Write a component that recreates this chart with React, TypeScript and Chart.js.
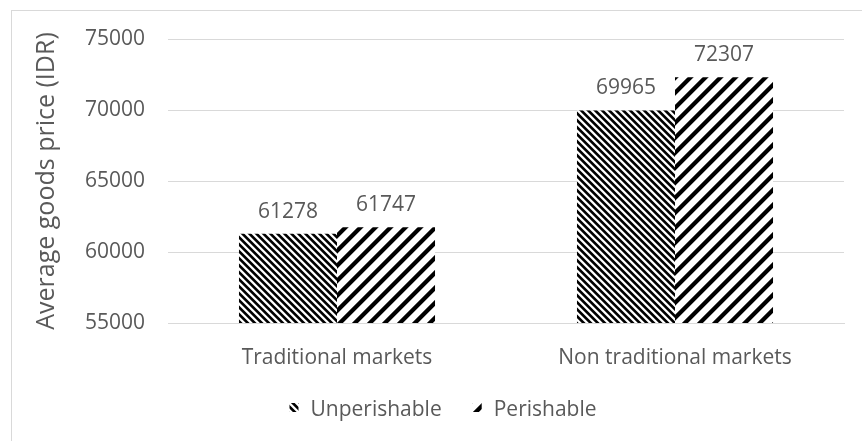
import React, { useEffect, useRef } from "react";
import { Chart, registerables } from "chart.js";

Chart.register(...registerables);

const categories = ["Traditional markets", "Non traditional markets"];
const seriesNames = ["Unperishable", "Perishable"];
const unperishable = [61278, 69965];
const perishable = [61747, 72307];
const yMin = 55000;
const yMax = 75000;
const yStep = 5000;
const axisTitle = "Average goods price (IDR)";

const FONT = "'Open Sans', 'DejaVu Sans', sans-serif";
const TEXT = "#595959";
const GRID = "#d9d9d9";
const FS = 21;

function makePattern(period: number, thickness: number, dir: number) {
  const c = document.createElement("canvas");
  c.width = period;
  c.height = period;
  const ctx = c.getContext("2d")!;
  const img = ctx.createImageData(period, period);
  const S = 4;
  for (let y = 0; y < period; y++) {
    for (let x = 0; x < period; x++) {
      let count = 0;
      for (let sy = 0; sy < S; sy++) {
        for (let sx = 0; sx < S; sx++) {
          const px = x + (sx + 0.5) / S;
          const py = y + (sy + 0.5) / S;
          const v = dir > 0 ? px - py : px + py;
          const m = ((v % period) + period) % period;
          if (m < thickness) count++;
        }
      }
      const val = Math.round(255 * (1 - count / (S * S)));
      const i = (y * period + x) * 4;
      img.data[i] = val;
      img.data[i + 1] = val;
      img.data[i + 2] = val;
      img.data[i + 3] = 255;
    }
  }
  ctx.putImageData(img, 0, 0);
  return ctx.createPattern(c, "repeat")!;
}

const valueLabels = {
  id: "valueLabels",
  afterDatasetsDraw(chart: any) {
    const ctx = chart.ctx;
    ctx.save();
    ctx.font = `${FS}px ${FONT}`;
    ctx.fillStyle = TEXT;
    ctx.textAlign = "center";
    ctx.textBaseline = "alphabetic";
    chart.data.datasets.forEach((ds: any, di: number) => {
      const meta = chart.getDatasetMeta(di);
      meta.data.forEach((el: any, i: number) => {
        ctx.fillText(String(ds.data[i]), el.x, el.y - 16);
      });
    });
    ctx.restore();
  },
};

const customLegend = {
  id: "customLegend",
  afterDraw(chart: any) {
    const ctx = chart.ctx;
    ctx.save();
    ctx.font = `${FS}px ${FONT}`;
    const box = 9;
    const gap = 12;
    const itemGap = 31;
    const items = chart.data.datasets.map((ds: any) => ({
      text: ds.label,
      fill: ds.backgroundColor,
      w: ctx.measureText(ds.label).width,
    }));
    let total = 0;
    items.forEach((it: any, i: number) => {
      total += box + gap + it.w + (i < items.length - 1 ? itemGap : 0);
    });
    let x = 443 - total / 2;
    const baseline = 416;
    items.forEach((it: any) => {
      ctx.fillStyle = it.fill;
      ctx.fillRect(x, baseline - 13, box, box);
      ctx.fillStyle = TEXT;
      ctx.textAlign = "left";
      ctx.textBaseline = "alphabetic";
      ctx.fillText(it.text, x + box + gap, baseline);
      x += box + gap + it.w + itemGap;
    });
    ctx.restore();
  },
};

export default function App() {
  const ref = useRef<HTMLCanvasElement>(null);

  useEffect(() => {
    document.body.style.margin = "0";
    const unPat = makePattern(7, 3.6, 1);
    const perPat = makePattern(15, 6, -1);
    const padLeft = 28;
    const chart = new Chart(ref.current!, {
      type: "bar",
      data: {
        labels: categories,
        datasets: [
          {
            label: seriesNames[0],
            data: unperishable,
            backgroundColor: unPat as any,
            borderWidth: 0,
            categoryPercentage: 0.58,
            barPercentage: 1,
          },
          {
            label: seriesNames[1],
            data: perishable,
            backgroundColor: perPat as any,
            borderWidth: 0,
            categoryPercentage: 0.58,
            barPercentage: 1,
          },
        ],
      },
      options: {
        animation: false,
        responsive: false,
        maintainAspectRatio: false,
        layout: { padding: { left: padLeft, right: 18, top: 39, bottom: 68 } },
        plugins: {
          legend: { display: false },
          tooltip: { enabled: false },
        },
        scales: {
          x: {
            grid: { display: false },
            border: { color: GRID, width: 1 },
            ticks: {
              font: { family: FONT, size: FS },
              color: TEXT,
              padding: 14,
            },
            afterFit: (scale: any) => {
              scale.height = 50;
            },
          },
          y: {
            min: yMin,
            max: yMax,
            ticks: {
              stepSize: yStep,
              font: { family: FONT, size: FS },
              color: TEXT,
              padding: 23,
              callback: (v: any) => String(v),
            },
            grid: { color: GRID, lineWidth: 1, drawTicks: false },
            border: { display: false },
            title: {
              display: true,
              text: axisTitle,
              font: { family: FONT, size: 25 },
              color: TEXT,
              padding: { top: 4, bottom: 4 },
            },
            afterFit: (scale: any) => {
              scale.width = 168 - padLeft;
            },
          },
        },
      },
      plugins: [valueLabels, customLegend],
    });
    return () => chart.destroy();
  }, []);

  return (
    <div style={{ position: "relative", width: 862, height: 441, overflow: "hidden", background: "#fff" }}>
      <div
        style={{
          position: "absolute",
          left: 11,
          top: 10,
          width: 880,
          height: 480,
          border: `1px solid ${GRID}`,
        }}
      />
      <canvas ref={ref} width={862} height={441} style={{ position: "absolute", left: 0, top: 0 }} />
    </div>
  );
}
